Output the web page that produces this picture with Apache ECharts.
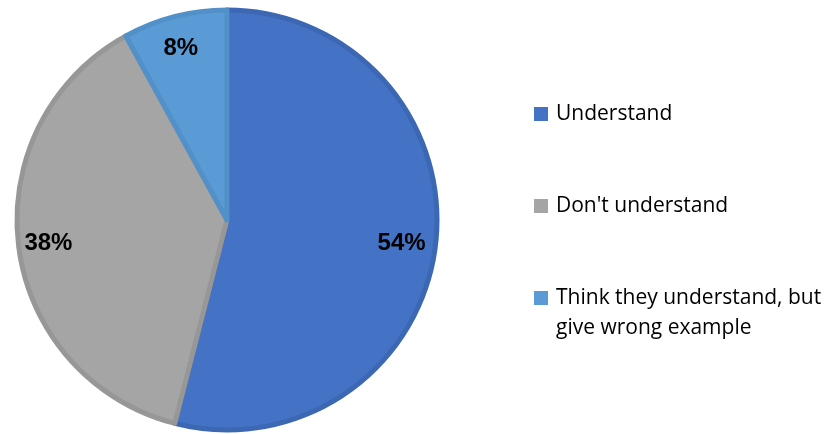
<!DOCTYPE html>
<html>
<head>
<meta charset="utf-8">
<script src="https://cdn.jsdelivr.net/npm/echarts@6/dist/echarts.min.js"></script>
<style>html,body{margin:0;padding:0;background:#fff}#c{width:826px;height:434px}</style>
</head>
<body>
<div id="c"></div>
<script>
const categories = ['Understand', "Don't understand", 'Think they understand, but\ngive wrong example'];
const values = [54, 38, 8];
const fills = ['#4472C4', '#A5A5A5', '#5B9BD5'];
const borders = ['#3C67B3', '#979797', '#5190C8'];

const chart = echarts.init(document.getElementById('c'));
const mainData = categories.map((n, i) => ({
  name: n, value: values[i],
  itemStyle: { color: fills[i], borderColor: borders[i], borderWidth: 5 }
}));
const labelData = categories.map((n, i) => ({ name: n, value: values[i] }));
// icon centre y for each legend entry
const legendCenters = [109, 201, 293];
const legends = categories.map((n, i) => {
  const multi = n.indexOf('\n') >= 0;
  return {
    orient: 'vertical', left: 529,
    top: multi ? legendCenters[i] - 45 : legendCenters[i] - 15,
    data: [{ name: n, icon: 'rect' }],
    itemWidth: 14, itemHeight: 14, itemGap: 0,
    itemStyle: { borderWidth: 0 },
    selectedMode: false,
    formatter: multi ? (s) => '\n' + s : '{name}',
    textStyle: { fontFamily: 'Open Sans', fontSize: 21, color: '#000', lineHeight: 30, padding: [0, 0, 0, 3] }
  };
});
chart.setOption({
  animation: false,
  legend: legends,
  series: [
    {
      type: 'pie', center: [227, 220], radius: 210,
      startAngle: 90, clockwise: true,
      label: { show: false }, labelLine: { show: false },
      emphasis: { disabled: true },
      data: mainData
    },
    {
      type: 'pie', center: [225, 221], radius: [138, 212],
      startAngle: 90, clockwise: true, silent: true,
      legendHoverLink: false,
      itemStyle: { color: 'rgba(0,0,0,0)' },
      label: {
        show: true, position: 'inside', formatter: '{c}%',
        fontFamily: 'Liberation Sans', fontWeight: 'bold', fontSize: 24, color: '#000'
      },
      labelLine: { show: false },
      emphasis: { disabled: true },
      data: labelData
    }
  ]
});
</script>
</body>
</html>
